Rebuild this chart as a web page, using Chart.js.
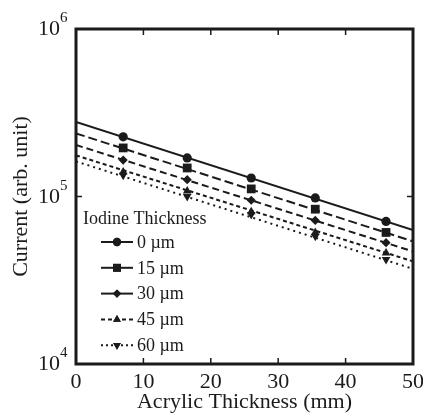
<!DOCTYPE html>
<html>
<head>
<meta charset="utf-8">
<script src="https://cdn.jsdelivr.net/npm/chart.js@4/dist/chart.umd.min.js"></script>
<style>
  html, body { margin: 0; padding: 0; background: #fff; }
  #chart { display: block; }
</style>
</head>
<body>
<canvas id="chart" width="423" height="416"></canvas>
<script>
(function () {
  'use strict';

  // Measured points (acrylic thickness in mm, current in arb. unit).
  var acrylic = [7, 16.5, 26, 35.5, 46];
  var iodineLabels = ['0 \u00b5m', '15 \u00b5m', '30 \u00b5m', '45 \u00b5m', '60 \u00b5m'];
  var current0 = [2.27e5, 1.70e5, 1.29e5, 9.8e4, 7.1e4];
  var current15 = [1.95e5, 1.48e5, 1.11e5, 8.4e4, 6.1e4];
  var current30 = [1.65e5, 1.26e5, 9.5e4, 7.2e4, 5.3e4];
  var current45 = [1.40e5, 1.08e5, 8.1e4, 6.1e4, 4.6e4];
  var current60 = [1.34e5, 1.0e5, 7.8e4, 5.8e4, 4.2e4];

  // Fitted lines, drawn across the whole x range.
  var fitX = [0, 50];
  var fit0 = [2.79e5, 6.3e4];
  var fit15 = [2.38e5, 5.4e4];
  var fit30 = [2.03e5, 4.7e4];
  var fit45 = [1.76e5, 4.1e4];
  var fit60 = [1.62e5, 3.7e4];

  var xTicks = [0, 10, 20, 30, 40, 50];
  var yDecades = [4, 5, 6];

  var ink = '#1b1b1b';
  var serif = "'Liberation Serif', 'Times New Roman', serif";

  // dash = line in the plot, keyDash = short sample in the legend
  var series = [
    { label: iodineLabels[0], values: current0, fit: fit0, style: 'circle', radius: 4.6, rotation: 0, dash: [], keyDash: [] },
    { label: iodineLabels[1], values: current15, fit: fit15, style: 'rect', radius: 6.2, rotation: 0, dash: [9, 4], keyDash: [] },
    { label: iodineLabels[2], values: current30, fit: fit30, style: 'rectRot', radius: 4.6, rotation: 0, dash: [7, 4], keyDash: [] },
    { label: iodineLabels[3], values: current45, fit: fit45, style: 'triangle', radius: 5, rotation: 0, dash: [4, 3], keyDash: [4, 3] },
    { label: iodineLabels[4], values: current60, fit: fit60, style: 'triangle', radius: 5, rotation: 180, dash: [2, 4], keyDash: [2, 3] }
  ];

  function pairs(xs, ys) {
    return xs.map(function (x, i) { return { x: x, y: ys[i] }; });
  }

  var datasets = [];
  series.forEach(function (s) {
    datasets.push({
      label: s.label + ' fit',
      data: pairs(fitX, s.fit),
      showLine: true,
      borderColor: ink,
      borderWidth: 2,
      borderDash: s.dash,
      pointRadius: 0,
      fill: false
    });
    datasets.push({
      label: s.label,
      data: pairs(acrylic, s.values),
      showLine: false,
      pointStyle: s.style,
      pointRadius: s.radius,
      pointRotation: s.rotation,
      pointBackgroundColor: ink,
      pointBorderColor: ink,
      pointBorderWidth: 0
    });
  });

  function line(ctx, x1, y1, x2, y2) {
    ctx.beginPath();
    ctx.moveTo(x1, y1);
    ctx.lineTo(x2, y2);
    ctx.stroke();
  }

  /**
   * Frame, inward ticks, power-of-ten labels and the legend.
   */
  var framePlugin = {
    id: 'frame',
    afterDraw: function (chart) {
      var ctx = chart.ctx;
      var a = chart.chartArea;
      var x = chart.scales.x;
      var y = chart.scales.y;
      ctx.save();
      ctx.strokeStyle = ink;
      ctx.fillStyle = ink;

      // inward ticks
      ctx.lineWidth = 1.5;
      xTicks.forEach(function (v) {
        var px = x.getPixelForValue(v);
        line(ctx, px, a.bottom, px, a.bottom - 6);
        line(ctx, px, a.top, px, a.top + 6);
      });
      yDecades.forEach(function (d) {
        var py = y.getPixelForValue(Math.pow(10, d));
        line(ctx, a.left, py, a.left + 6, py);
        line(ctx, a.right, py, a.right - 6, py);
      });

      // frame
      ctx.lineWidth = 3;
      ctx.strokeRect(a.left, a.top, a.right - a.left, a.bottom - a.top);

      // 10^n labels
      yDecades.forEach(function (d) {
        var py = y.getPixelForValue(Math.pow(10, d));
        ctx.font = '22px ' + serif;
        ctx.textAlign = 'right';
        ctx.textBaseline = 'alphabetic';
        ctx.fillText('10', a.left - 16, py + 6);
        ctx.font = '15px ' + serif;
        ctx.textAlign = 'left';
        ctx.fillText(String(d), a.left - 16, py - 7);
      });

      // legend
      var lx = a.left;
      var top = a.top + 190;
      ctx.font = '18px ' + serif;
      ctx.textAlign = 'left';
      ctx.textBaseline = 'middle';
      ctx.fillText('Iodine Thickness', lx + 7, top);
      series.forEach(function (s, i) {
        var ry = top + 23 + i * 25.8;
        ctx.lineWidth = 2;
        ctx.setLineDash(s.keyDash);
        line(ctx, lx + 25, ry, lx + 57, ry);
        ctx.setLineDash([]);
        Chart.helpers.drawPoint(ctx, { pointStyle: s.style, radius: s.radius * 0.9, rotation: s.rotation, borderWidth: 0 }, lx + 41, ry);
        ctx.fill();
        ctx.fillText(s.label, lx + 61, ry + 1);
      });
      ctx.restore();
    }
  };

  new Chart(document.getElementById('chart').getContext('2d'), {
    type: 'scatter',
    data: { datasets: datasets },
    options: {
      responsive: false,
      devicePixelRatio: 1,
      animation: false,
      layout: { padding: { top: 29, right: 10, left: 0, bottom: 0 } },
      plugins: { legend: { display: false }, tooltip: { enabled: false } },
      scales: {
        x: {
          type: 'linear',
          min: 0,
          max: 50,
          afterBuildTicks: function (scale) {
            scale.ticks = xTicks.map(function (v) { return { value: v }; });
          },
          afterFit: function (scale) { scale.height = 52; },
          grid: { display: false },
          border: { display: false },
          ticks: { color: ink, padding: -3, maxRotation: 0, font: { family: serif, size: 22 } },
          title: { display: true, text: 'Acrylic Thickness (mm)', color: ink, padding: { top: 0, bottom: 1 }, font: { family: serif, size: 22 } }
        },
        y: {
          type: 'logarithmic',
          min: 1e4,
          max: 1e6,
          afterFit: function (scale) { scale.width = 76; },
          grid: { display: false },
          border: { display: false },
          ticks: { display: false },
          title: { display: true, text: 'Current (arb. unit)', color: ink, padding: { top: 8, bottom: 0 }, font: { family: serif, size: 22 } }
        }
      }
    },
    plugins: [framePlugin]
  });
})();
</script>
</body>
</html>
